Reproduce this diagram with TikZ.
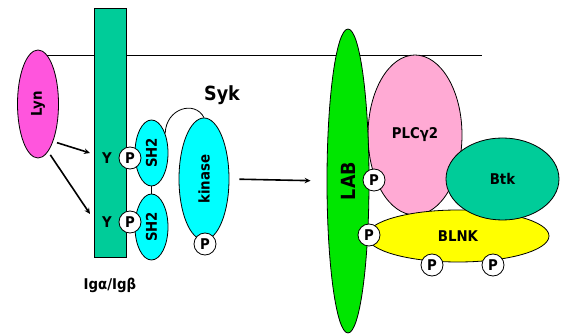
\documentclass[tikz,border=0pt]{standalone}
\usepackage{fontspec}
\setmainfont{DejaVu Sans}
\newfontfamily\condfont{DejaVu Sans Condensed}
\usetikzlibrary{shapes.geometric, arrows.meta}

\definecolor{lynpink}{RGB}{255,85,221}
\definecolor{igteal}{RGB}{0,204,153}
\definecolor{sykcyan}{RGB}{0,255,255}
\definecolor{labgreen}{RGB}{0,230,0}
\definecolor{plcpink}{RGB}{255,170,212}
\definecolor{blnkyellow}{RGB}{255,255,0}

\newcommand{\lbl}[1]{\condfont\fontsize{14.8}{16}\selectfont\bfseries #1}
\newcommand{\biglbl}[1]{\condfont\fontsize{19.5}{22}\selectfont\bfseries #1}
\newcommand{\vlbl}[1]{\rotatebox{90}{\lbl{#1}}}

\begin{document}
\begin{tikzpicture}
            [x=1pt, y=-1pt, >={Stealth[length=6pt,width=5.5pt]}, semithick,
             prot/.style={shape=ellipse, draw=black, line width=0.8pt, inner sep=0pt},
             phos/.style={shape=circle, draw=black, line width=0.8pt, fill=white,
                          minimum size=22pt, inner sep=0pt, font=\lbl{}},
             arr/.style={->, line width=1.6pt}]
            \useasboundingbox (0,0) rectangle (563,334);

            % membrane
            \coordinate (memL) at (38,55);
            \coordinate (memR) at (482,55);
            \draw[line width=0.9pt] (memL) -- (memR);

            % receptor chain
            \node[draw=black, line width=0.8pt, fill=igteal, minimum width=32pt,
                  minimum height=249pt, inner sep=0pt] (ig) at (110,132.5) {};
            \node (iglabel) at (110,285) {\lbl{Igα/Igβ}};
            \node (ya) at (107,158) {\lbl{Y}};
            \node (yb) at (107,222) {\lbl{Y}};
            \coordinate (ya_in) at (90,153);
            \coordinate (yb_in) at (90,214);

            % Lyn
            \node[prot, fill=lynpink, minimum width=41pt, minimum height=108pt] (lyn) at (38,104) {\vlbl{Lyn}};
            \draw[arr, shorten <=4pt] (lyn.-68) -- (ya_in);
            \draw[arr, shorten <=4pt] (lyn.-78) -- (yb_in);

            % Syk
            \node[prot, fill=sykcyan, minimum width=33pt, minimum height=66pt] (sh2a) at (151.5,153) {\vlbl{SH2}};
            \node[prot, fill=sykcyan, minimum width=33pt, minimum height=66pt] (sh2b) at (151.5,227) {\vlbl{SH2}};
            \node[prot, fill=sykcyan, minimum width=50pt, minimum height=122pt] (kinase) at (204,179) {\vlbl{kinase}};
            \node (syk) at (222,95) {\biglbl{Syk}};
            \draw[line width=0.8pt] (sh2a.south) -- (sh2b.north);
            \draw[line width=0.8pt] (sh2a.55) .. controls (166,108) and (195,100) .. (kinase.north);
            \node[phos] (pa) at (130,158) {P};
            \node[phos] (pb) at (130,222) {P};
            \node[phos] (pk) at (205,244) {P};

            % LAB complex
            \node[prot, fill=plcpink, minimum width=94pt, minimum height=160pt] (plc) at (415,135) {\lbl{PLCγ2}};
            \node[prot, fill=blnkyellow, minimum width=182pt, minimum height=52pt] (blnk) at (458,236) {\lbl{BLNK}};
            \node[prot, fill=igteal, minimum width=113pt, minimum height=82pt] (btk) at (502.5,179) {\lbl{Btk}};
            \node[prot, fill=labgreen, minimum width=42pt, minimum height=304pt] (lab) at (348,181)
                {\rotatebox{90}{\biglbl{LAB}}};
            \node[phos] (plab) at (374,180) {P};
            \node[phos] (pblnk1) at (369,235) {P};
            \node[phos] (pblnk2) at (432,265) {P};
            \node[phos] (pblnk3) at (493,265) {P};

            \draw[arr, shorten <=10pt, shorten >=16pt] (kinase.east) -- (lab.west);
        \end{tikzpicture}
\end{document}
